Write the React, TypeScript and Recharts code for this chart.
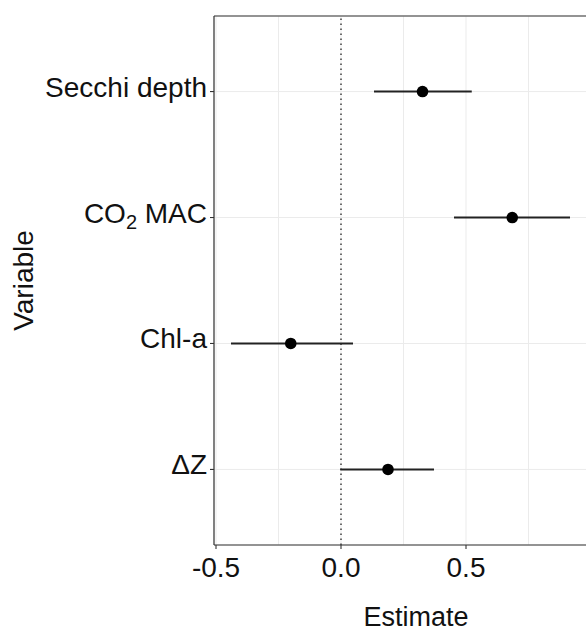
import {
  ScatterChart,
  Scatter,
  ErrorBar,
  XAxis,
  YAxis,
  CartesianGrid,
  ReferenceLine,
} from 'recharts';

// Coefficient estimates with their confidence limits, top to bottom
const variables = ['Secchi depth', 'CO₂ MAC', 'Chl-a', 'ΔZ'];
const estimates = [0.326, 0.685, -0.201, 0.188];
const lower = [0.132, 0.452, -0.44, -0.003];
const upper = [0.523, 0.916, 0.048, 0.372];

// Axis ticks (major labelled, minor only as grid lines)
const majorTicks = [-0.5, 0, 0.5];
const minorTicks = [-0.25, 0.25, 0.75];
const xDomain = [-0.508, 1.108];

const FONT = '"Liberation Sans", Arial, Helvetica, sans-serif';
const AXIS_COLOR = '#333333';

const data = variables.map((name, i) => ({
  pos: i + 1,
  name,
  est: estimates[i],
  err: [estimates[i] - lower[i], upper[i] - estimates[i]],
}));

const XTick = (props: any) => {
  const { x, y, payload } = props;
  if (!majorTicks.includes(payload.value)) return <g />;
  return (
    <g>
      <line x1={x} x2={x} y1={y} y2={y + 4} stroke={AXIS_COLOR} strokeWidth={1.1} />
      <text
        x={x}
        y={y + 32}
        textAnchor="middle"
        fontSize={28}
        fontFamily={FONT}
        fill="#111"
      >
        {payload.value.toFixed(1)}
      </text>
    </g>
  );
};

const YTick = (props: any) => {
  const { x, y, payload } = props;
  const label = variables[payload.value - 1] ?? '';
  const parts = label.split('₂');
  return (
    <g>
      <line x1={x - 4} x2={x} y1={y} y2={y} stroke={AXIS_COLOR} strokeWidth={1.1} />
      <text
        x={x - 7}
        y={y + 5}
        textAnchor="end"
        fontSize={28}
        fontFamily={FONT}
        fill="#111"
      >
        {parts.length > 1 ? (
          <>
            <tspan>{parts[0]}</tspan>
            <tspan fontSize={20} dy={6}>2</tspan>
            <tspan dy={-6}>{parts[1]}</tspan>
          </>
        ) : (
          label
        )}
      </text>
    </g>
  );
};

const XTitle = (props: any) => {
  const { viewBox } = props;
  return (
    <text
      x={viewBox.x + viewBox.width / 2}
      y={viewBox.y + 81}
      textAnchor="middle"
      fontSize={27}
      fontFamily={FONT}
      fill="#111"
    >
      Estimate
    </text>
  );
};

const YTitle = (props: any) => {
  const { viewBox } = props;
  const cy = viewBox.y + viewBox.height / 2;
  return (
    <text
      x={33}
      y={cy}
      transform={`rotate(-90, 33, ${cy})`}
      textAnchor="middle"
      fontSize={28}
      fontFamily={FONT}
      fill="#111"
    >
      Variable
    </text>
  );
};

const Dot = (props: any) => {
  const { cx, cy } = props;
  return <circle cx={cx} cy={cy} r={5.8} fill="#000" />;
};

export default function App() {
  return (
    <div
      style={{
        position: 'absolute',
        left: 0,
        top: 0,
        width: 586,
        height: 633,
        overflow: 'hidden',
        background: '#fff',
      }}
    >
      <ScatterChart
        width={618}
        height={633}
        margin={{ top: 16, right: 0, bottom: 0, left: 0 }}
      >
        <CartesianGrid stroke="#ebebeb" strokeWidth={1} />
        <XAxis
          type="number"
          dataKey="est"
          domain={xDomain}
          ticks={[...majorTicks, ...minorTicks].sort((a, b) => a - b)}
          interval={0}
          allowDataOverflow
          height={88}
          tickSize={0}
          tickMargin={0}
          tickLine={false}
          tick={<XTick />}
          axisLine={{ stroke: AXIS_COLOR, strokeWidth: 1.2 }}
          label={XTitle}
        />
        <YAxis
          type="number"
          dataKey="pos"
          domain={[0.4, 4.6]}
          ticks={[1, 2, 3, 4]}
          interval={0}
          reversed
          allowDataOverflow
          width={214}
          tickSize={0}
          tickMargin={0}
          tickLine={false}
          tick={<YTick />}
          axisLine={{ stroke: AXIS_COLOR, strokeWidth: 1.2 }}
          label={YTitle}
        />
        <ReferenceLine y={0.4} stroke={AXIS_COLOR} strokeWidth={1.2} />
        <ReferenceLine
          x={0}
          stroke={AXIS_COLOR}
          strokeWidth={1.4}
          strokeDasharray="1.5 3.5"
        />
        <Scatter data={data} shape={Dot} isAnimationActive={false}>
          <ErrorBar
            dataKey="err"
            direction="x"
            width={0}
            stroke="#222"
            strokeWidth={2}
            isAnimationActive={false}
          />
        </Scatter>
      </ScatterChart>
    </div>
  );
}
